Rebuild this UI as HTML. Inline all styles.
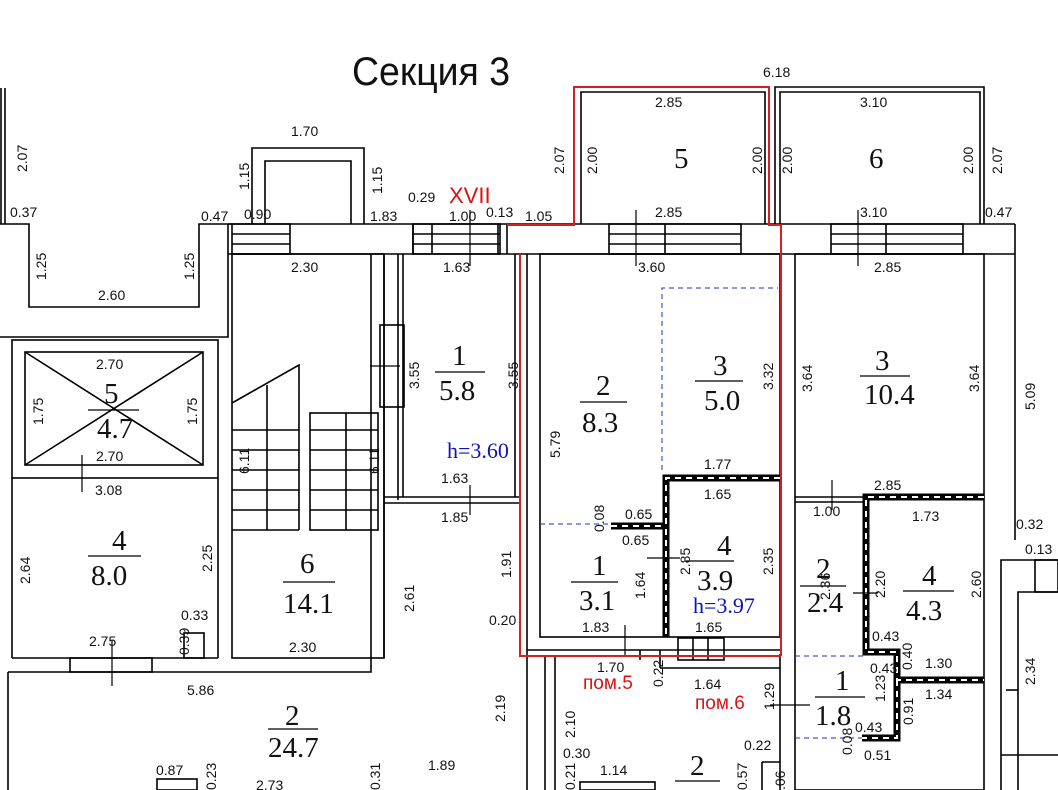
<!DOCTYPE html>
<html><head><meta charset="utf-8"><style>
html,body{margin:0;padding:0;background:#fff}
svg{display:block}
text{font-family:"Liberation Sans",sans-serif;font-size:14px;fill:#111}
.s{font-family:"Liberation Serif",serif;font-size:29px}
.b{font-family:"Liberation Serif",serif;font-size:22px;fill:#1010c0}
.r{fill:#e01010;font-size:19px}
</style></head><body>
<svg width="1058" height="790" viewBox="0 0 1058 790" xmlns="http://www.w3.org/2000/svg">
<g fill="none" stroke="#000" stroke-width="1.6">
<line x1="1" y1="88" x2="1" y2="224"/><line x1="5" y1="88" x2="5" y2="224"/>
<polyline points="0,224 29,224 29,307 199,307 199,224 232,224"/>
<polyline points="0,337 228,337 228,224"/>
<polyline points="252,224 252,148 364,148 364,224"/>
<polyline points="265,224 265,161 351,161 351,224"/>
<line x1="228" y1="224" x2="1015" y2="224"/>
<line x1="228" y1="254" x2="1015" y2="254"/>
<line x1="1015" y1="224" x2="1015" y2="540"/>
<line x1="413" y1="224" x2="413" y2="254"/>
<line x1="507" y1="224" x2="507" y2="254"/>
<rect x="232" y="224" width="58" height="30"/><line x1="232" y1="234" x2="290" y2="234"/><line x1="232" y1="244" x2="290" y2="244"/>
<rect x="413" y="224" width="87" height="30"/><line x1="413" y1="234" x2="500" y2="234"/><line x1="413" y1="244" x2="500" y2="244"/><line x1="432" y1="224" x2="432" y2="254"/><line x1="498" y1="224" x2="498" y2="254"/>
<rect x="609" y="224" width="132" height="30"/><line x1="609" y1="234" x2="741" y2="234"/><line x1="609" y1="244" x2="741" y2="244"/><line x1="665" y1="224" x2="665" y2="254"/>
<rect x="831" y="224" width="132" height="30"/><line x1="831" y1="234" x2="963" y2="234"/><line x1="831" y1="244" x2="963" y2="244"/><line x1="886" y1="224" x2="886" y2="254"/>
<polyline points="581,224 581,92 765,92 765,224"/>
<polyline points="775,224 775,87 984,87 984,224"/>
<polyline points="780,224 780,92 980,92 980,224"/>
<rect x="12" y="340" width="206" height="138"/>
<rect x="25" y="352" width="178" height="113"/>
<line x1="25" y1="352" x2="203" y2="465"/><line x1="203" y1="352" x2="25" y2="465"/>
<line x1="12" y1="478" x2="12" y2="658"/><line x1="218" y1="478" x2="218" y2="658"/>
<line x1="12" y1="658" x2="218" y2="658"/>
<line x1="8" y1="672" x2="8" y2="790"/>
<polyline points="8,672 371,672 371,254"/>
<rect x="70" y="658" width="82" height="14"/>
<rect x="184" y="633" width="20" height="25"/>
<rect x="232" y="254" width="152" height="404"/>
<line x1="384" y1="254" x2="384" y2="658"/>
<polyline points="232,403 299,365 299,530"/><line x1="267" y1="385" x2="267" y2="530"/>
<line x1="232" y1="430" x2="299" y2="430"/><line x1="232" y1="450" x2="299" y2="450"/><line x1="232" y1="470" x2="299" y2="470"/><line x1="232" y1="490" x2="299" y2="490"/><line x1="232" y1="510" x2="299" y2="510"/><line x1="232" y1="530" x2="299" y2="530"/>
<rect x="310" y="413" width="68" height="117"/><line x1="346" y1="413" x2="346" y2="530"/>
<line x1="310" y1="430" x2="378" y2="430"/><line x1="310" y1="450" x2="378" y2="450"/><line x1="310" y1="470" x2="378" y2="470"/><line x1="310" y1="490" x2="378" y2="490"/><line x1="310" y1="510" x2="378" y2="510"/>
<line x1="398" y1="254" x2="398" y2="500"/><line x1="403" y1="254" x2="403" y2="497"/>
<line x1="384" y1="497" x2="520" y2="497"/><line x1="384" y1="503" x2="520" y2="503"/>
<rect x="380" y="325" width="24" height="82"/>
<line x1="515" y1="254" x2="515" y2="497"/>
<rect x="540" y="254" width="240" height="383"/>
<line x1="527" y1="254" x2="527" y2="790"/>
<line x1="527" y1="650" x2="780" y2="650"/>
<line x1="545" y1="656" x2="545" y2="790"/><line x1="555" y1="656" x2="555" y2="790"/>
<line x1="660" y1="650" x2="660" y2="668"/><line x1="660" y1="668" x2="780" y2="668"/>
<rect x="678" y="638" width="46" height="22"/><line x1="693" y1="638" x2="693" y2="660"/><line x1="708" y1="638" x2="708" y2="660"/>
<line x1="780" y1="654" x2="780" y2="790"/>
<rect x="795" y="254" width="189" height="536"/>
<line x1="795" y1="497" x2="866" y2="497"/><line x1="795" y1="502" x2="866" y2="502"/>
<polyline points="1001,790 1001,560 1058,560"/>
<polyline points="1018,790 1018,592 1058,592"/>
<line x1="1001" y1="755" x2="1058" y2="755"/>
<rect x="1035" y="560" width="23" height="32"/>
<line x1="1006" y1="690" x2="1018" y2="690"/>
<rect x="157" y="779" width="40" height="11"/>
<rect x="580" y="782" width="75" height="8"/>
<line x1="762" y1="762" x2="780" y2="762"/><line x1="762" y1="762" x2="762" y2="790"/>
<line x1="640" y1="650" x2="640" y2="660"/>
</g>
<g fill="none" stroke="#000" stroke-width="7">
<polyline points="780,478 666,478 666,637"/>
<line x1="611" y1="526" x2="666" y2="526"/>
<polyline points="984,497 866,497 866,652 897,652 897,680 984,680"/>
<polyline points="897,680 897,738 862,738"/>
</g>
<g fill="none" stroke="#fff" stroke-width="2" stroke-dasharray="6 5">
<polyline points="780,478 666,478 666,637"/>
<line x1="611" y1="526" x2="666" y2="526"/>
<polyline points="984,497 866,497 866,652 897,652 897,680 984,680"/>
<polyline points="897,680 897,738 862,738"/>
</g>
<g fill="none" stroke="#2030c0" stroke-width="1" stroke-dasharray="5 4">
<polyline points="662,470 662,288 778,288"/>
<line x1="540" y1="524" x2="611" y2="524"/>
<line x1="795" y1="656" x2="866" y2="656"/>
<line x1="795" y1="738" x2="862" y2="738"/>
</g>
<g fill="none" stroke="#d42020" stroke-width="2">
<polyline points="507,225 574,225 574,87 769,87 769,225 781,225"/>
<line x1="781" y1="225" x2="781" y2="656"/>
<polyline points="520,254 520,656 781,656"/>
</g>
<g stroke="#000" stroke-width="1.2">
<line x1="82" y1="455" x2="82" y2="492"/><line x1="112" y1="640" x2="112" y2="686"/>
<line x1="370" y1="366" x2="400" y2="366"/><line x1="470" y1="210" x2="470" y2="266"/>
<line x1="470" y1="485" x2="470" y2="515"/><line x1="636" y1="210" x2="636" y2="266"/>
<line x1="858" y1="210" x2="858" y2="266"/><line x1="832" y1="480" x2="832" y2="510"/>
<line x1="625" y1="625" x2="625" y2="655"/><line x1="647" y1="558" x2="680" y2="558"/>
<line x1="853" y1="593" x2="878" y2="593"/><line x1="770" y1="705" x2="810" y2="705"/>
</g>
<text x="352" y="85" style="font-size:40px" textLength="158" lengthAdjust="spacingAndGlyphs">Секция 3</text>
<text x="763" y="77">6.18</text>
<text x="655" y="107">2.85</text><text x="860" y="107">3.10</text>
<text class="s" x="674" y="168">5</text><text class="s" x="869" y="168">6</text>
<text x="291" y="136">1.70</text>
<text x="10" y="217">0.37</text><text x="201" y="221">0.47</text><text x="244" y="219">0.90</text><text x="370" y="221">1.83</text>
<text x="408" y="202">0.29</text><text x="449" y="203" class="r" style="font-size:22px">XVII</text>
<text x="449" y="221">1.00</text><text x="486" y="217">0.13</text><text x="525" y="221">1.05</text>
<text x="655" y="217">2.85</text><text x="860" y="217">3.10</text><text x="985" y="217">0.47</text>
<text x="291" y="272">2.30</text><text x="443" y="272">1.63</text><text x="638" y="272">3.60</text><text x="874" y="272">2.85</text>
<text x="98" y="300">2.60</text>
<text x="96" y="369">2.70</text><text x="96" y="461">2.70</text><text x="95" y="495">3.08</text>
<text class="s" x="104" y="403">5</text><line x1="88" y1="410" x2="139" y2="410" stroke="#000" stroke-width="1.2"/><text class="s" x="97" y="438">4.7</text>
<text class="s" x="112" y="550">4</text><line x1="88" y1="556" x2="141" y2="556" stroke="#000" stroke-width="1.2"/><text class="s" x="91" y="585">8.0</text>
<text x="89" y="646">2.75</text><text x="181" y="620">0.33</text><text x="289" y="652">2.30</text><text x="187" y="695">5.86</text>
<text class="s" x="300" y="573">6</text><line x1="283" y1="582" x2="335" y2="582" stroke="#000" stroke-width="1.2"/><text class="s" x="283" y="613">14.1</text>
<text class="s" x="452" y="365">1</text><line x1="435" y1="372" x2="485" y2="372" stroke="#000" stroke-width="1.2"/><text class="s" x="439" y="400">5.8</text>
<text class="b" x="447" y="458">h=3.60</text>
<text x="441" y="483">1.63</text><text x="441" y="522">1.85</text><text x="489" y="625">0.20</text>
<text class="s" x="596" y="395">2</text><line x1="580" y1="402" x2="627" y2="402" stroke="#000" stroke-width="1.2"/><text class="s" x="582" y="432">8.3</text>
<text class="s" x="713" y="375">3</text><line x1="695" y1="381" x2="743" y2="381" stroke="#000" stroke-width="1.2"/><text class="s" x="704" y="410">5.0</text>
<text class="s" x="875" y="370">3</text><line x1="860" y1="376" x2="910" y2="376" stroke="#000" stroke-width="1.2"/><text class="s" x="864" y="404">10.4</text>
<text x="704" y="469">1.77</text><text x="704" y="499">1.65</text><text x="625" y="519">0.65</text><text x="622" y="545">0.65</text>
<text class="s" x="717" y="555">4</text><line x1="686" y1="561" x2="734" y2="561" stroke="#000" stroke-width="1.2"/><text class="s" x="697" y="590">3.9</text>
<text class="b" x="693" y="613">h=3.97</text>
<text class="s" x="592" y="575">1</text><line x1="571" y1="582" x2="618" y2="582" stroke="#000" stroke-width="1.2"/><text class="s" x="579" y="610">3.1</text>
<text x="582" y="632">1.83</text><text x="695" y="632">1.65</text><text x="597" y="672">1.70</text>
<text x="583" y="689" class="r">пом.5</text><text x="695" y="709" class="r">пом.6</text>
<text x="694" y="689">1.64</text><text x="744" y="750">0.22</text>
<text x="874" y="490">2.85</text><text x="813" y="516">1.00</text><text x="912" y="521">1.73</text>
<text class="s" x="816" y="578">2</text><line x1="800" y1="586" x2="846" y2="586" stroke="#000" stroke-width="1.2"/><text class="s" x="807" y="612">2.4</text>
<text class="s" x="922" y="585">4</text><line x1="903" y1="591" x2="954" y2="591" stroke="#000" stroke-width="1.2"/><text class="s" x="906" y="620">4.3</text>
<text x="872" y="641">0.43</text><text x="870" y="673">0.43</text><text x="925" y="668">1.30</text><text x="925" y="699">1.34</text>
<text class="s" x="835" y="690">1</text><line x1="815" y1="697" x2="865" y2="697" stroke="#000" stroke-width="1.2"/><text class="s" x="815" y="725">1.8</text>
<text x="855" y="732">0.43</text><text x="864" y="760">0.51</text>
<text x="1016" y="529">0.32</text><text x="1025" y="554">0.13</text>
<text class="s" x="285" y="725">2</text><line x1="268" y1="729" x2="318" y2="729" stroke="#000" stroke-width="1.2"/><text class="s" x="268" y="757">24.7</text>
<text x="156" y="775">0.87</text><text x="256" y="790">2.73</text><text x="428" y="770">1.89</text>
<text x="563" y="758">0.30</text><text x="600" y="775">1.14</text>
<text class="s" x="690" y="775">2</text><line x1="675" y1="781" x2="720" y2="781" stroke="#000" stroke-width="1.2"/>
<g>
<text transform="translate(27,172) rotate(-90)">2.07</text>
<text transform="translate(46,280) rotate(-90)">1.25</text>
<text transform="translate(194,280) rotate(-90)">1.25</text>
<text transform="translate(249,190) rotate(-90)">1.15</text>
<text transform="translate(382,194) rotate(-90)">1.15</text>
<text transform="translate(43,425) rotate(-90)">1.75</text>
<text transform="translate(197,425) rotate(-90)">1.75</text>
<text transform="translate(249,474) rotate(-90)">6.11</text>
<text transform="translate(379,474) rotate(-90)">6.11</text>
<text transform="translate(30,584) rotate(-90)">2.64</text>
<text transform="translate(212,572) rotate(-90)">2.25</text>
<text transform="translate(189,655) rotate(-90)">0.39</text>
<text transform="translate(414,612) rotate(-90)">2.61</text>
<text transform="translate(419,389) rotate(-90)">3.55</text>
<text transform="translate(518,389) rotate(-90)">3.55</text>
<text transform="translate(511,578) rotate(-90)">1.91</text>
<text transform="translate(505,722) rotate(-90)">2.19</text>
<text transform="translate(564,174) rotate(-90)">2.07</text>
<text transform="translate(597,174) rotate(-90)">2.00</text>
<text transform="translate(762,174) rotate(-90)">2.00</text>
<text transform="translate(792,174) rotate(-90)">2.00</text>
<text transform="translate(973,174) rotate(-90)">2.00</text>
<text transform="translate(1002,174) rotate(-90)">2.07</text>
<text transform="translate(560,458) rotate(-90)">5.79</text>
<text transform="translate(773,390) rotate(-90)">3.32</text>
<text transform="translate(812,392) rotate(-90)">3.64</text>
<text transform="translate(979,392) rotate(-90)">3.64</text>
<text transform="translate(1035,410) rotate(-90)">5.09</text>
<text transform="translate(604,532) rotate(-90)">0.08</text>
<text transform="translate(690,575) rotate(-90)">2.85</text>
<text transform="translate(773,575) rotate(-90)">2.35</text>
<text transform="translate(645,599) rotate(-90)">1.64</text>
<text transform="translate(663,687) rotate(-90)">0.22</text>
<text transform="translate(575,738) rotate(-90)">2.10</text>
<text transform="translate(575,790) rotate(-90)">0.21</text>
<text transform="translate(747,790) rotate(-90)">0.57</text>
<text transform="translate(774,710) rotate(-90)">1.29</text>
<text transform="translate(830,600) rotate(-90)">2.36</text>
<text transform="translate(885,598) rotate(-90)">2.20</text>
<text transform="translate(981,598) rotate(-90)">2.60</text>
<text transform="translate(912,670) rotate(-90)">0.40</text>
<text transform="translate(885,702) rotate(-90)">1.23</text>
<text transform="translate(913,725) rotate(-90)">0.91</text>
<text transform="translate(852,755) rotate(-90)">0.08</text>
<text transform="translate(1035,685) rotate(-90)">2.34</text>
<text transform="translate(785,790) rotate(-90)">.06</text>
<text transform="translate(216,790) rotate(-90)">0.23</text>
<text transform="translate(380,790) rotate(-90)">0.31</text>
</g>
</svg>
</body></html>
